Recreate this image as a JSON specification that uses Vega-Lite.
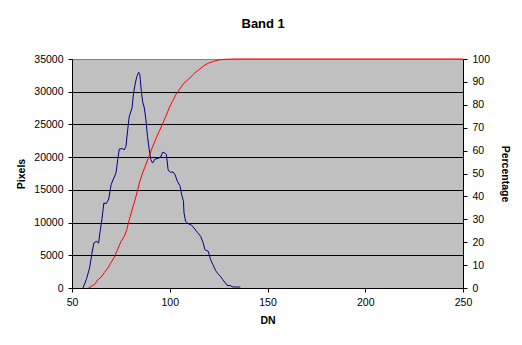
{
  "$schema": "https://vega.github.io/schema/vega-lite/v6.json",
  "width": 391,
  "height": 229,
  "autosize": {"type": "none"},
  "padding": {"left": 72, "top": 59, "right": 59, "bottom": 57},
  "background": "white",
  "title": {"text": "Band 1", "font": "Liberation Sans", "fontSize": 13, "fontWeight": "bold", "color": "black", "anchor": "middle", "frame": "bounds", "offset": 23},
  "config": {
    "view": {"fill": "#C0C0C0", "stroke": "#808080", "strokeWidth": 1},
    "axis": {"labelFont": "Liberation Sans", "labelFontSize": 10.5, "labelColor": "black", "titleFont": "Liberation Sans", "titleFontSize": 10.5, "titleFontWeight": "bold", "titleColor": "black", "domainColor": "black", "tickColor": "black", "tickSize": 4, "labelPadding": 5, "grid": false, "labelFlush": false, "labelOverlap": false}
  },
  "datasets": {
    "hist": [
      {"DN": 55.6, "Pixels": 0}, {"DN": 57.3, "Pixels": 1274}, {"DN": 59.0, "Pixels": 3057}, {"DN": 60.2, "Pixels": 5350},
      {"DN": 61.2, "Pixels": 6878}, {"DN": 62.4, "Pixels": 7133}, {"DN": 63.6, "Pixels": 6878}, {"DN": 64.4, "Pixels": 8661},
      {"DN": 65.4, "Pixels": 10700}, {"DN": 66.3, "Pixels": 12992}, {"DN": 67.5, "Pixels": 12890}, {"DN": 68.8, "Pixels": 13604},
      {"DN": 70.0, "Pixels": 15795}, {"DN": 71.4, "Pixels": 16814}, {"DN": 72.5, "Pixels": 17578}, {"DN": 73.4, "Pixels": 19616},
      {"DN": 74.2, "Pixels": 21246}, {"DN": 75.6, "Pixels": 21297}, {"DN": 76.8, "Pixels": 21144}, {"DN": 77.6, "Pixels": 21654},
      {"DN": 78.5, "Pixels": 24201}, {"DN": 79.3, "Pixels": 26239}, {"DN": 80.7, "Pixels": 27513}, {"DN": 81.5, "Pixels": 29806},
      {"DN": 82.4, "Pixels": 31334}, {"DN": 83.2, "Pixels": 32353}, {"DN": 84.1, "Pixels": 32965}, {"DN": 84.7, "Pixels": 32608},
      {"DN": 85.4, "Pixels": 30315}, {"DN": 86.1, "Pixels": 28532}, {"DN": 87.0, "Pixels": 27513}, {"DN": 87.8, "Pixels": 25729},
      {"DN": 88.6, "Pixels": 23182}, {"DN": 89.5, "Pixels": 21144}, {"DN": 90.3, "Pixels": 19616}, {"DN": 91.2, "Pixels": 19106},
      {"DN": 92.5, "Pixels": 19718}, {"DN": 94.2, "Pixels": 19820}, {"DN": 95.4, "Pixels": 20023}, {"DN": 96.3, "Pixels": 20737},
      {"DN": 97.5, "Pixels": 20635}, {"DN": 98.3, "Pixels": 20380}, {"DN": 99.2, "Pixels": 17985}, {"DN": 100.5, "Pixels": 17680},
      {"DN": 101.7, "Pixels": 17731}, {"DN": 102.7, "Pixels": 17323}, {"DN": 103.9, "Pixels": 16304}, {"DN": 105.3, "Pixels": 15540},
      {"DN": 106.1, "Pixels": 14266}, {"DN": 107.0, "Pixels": 13247}, {"DN": 107.3, "Pixels": 11464}, {"DN": 108.1, "Pixels": 10190},
      {"DN": 109.5, "Pixels": 9833}, {"DN": 111.2, "Pixels": 9579}, {"DN": 112.4, "Pixels": 9171}, {"DN": 114.1, "Pixels": 8509},
      {"DN": 115.8, "Pixels": 7897}, {"DN": 117.0, "Pixels": 6980}, {"DN": 118.0, "Pixels": 5859}, {"DN": 119.7, "Pixels": 5604},
      {"DN": 120.9, "Pixels": 4331}, {"DN": 122.1, "Pixels": 3567}, {"DN": 123.4, "Pixels": 2700}, {"DN": 124.6, "Pixels": 2191},
      {"DN": 125.9, "Pixels": 1783}, {"DN": 127.1, "Pixels": 1274}, {"DN": 128.5, "Pixels": 764}, {"DN": 129.3, "Pixels": 408},
      {"DN": 131.0, "Pixels": 357}, {"DN": 132.4, "Pixels": 153}, {"DN": 136.1, "Pixels": 153}
    ],
    "cum": [
      {"DN": 58.5, "Percentage": 0}, {"DN": 59.8, "Percentage": 0.7}, {"DN": 61.5, "Percentage": 1.5}, {"DN": 63.2, "Percentage": 3.6},
      {"DN": 64.9, "Percentage": 4.7}, {"DN": 66.6, "Percentage": 6.8}, {"DN": 68.3, "Percentage": 8.7}, {"DN": 70.0, "Percentage": 11.2},
      {"DN": 71.7, "Percentage": 13.5}, {"DN": 73.4, "Percentage": 17.0}, {"DN": 75.1, "Percentage": 20.4}, {"DN": 76.8, "Percentage": 22.6},
      {"DN": 78.0, "Percentage": 25.5}, {"DN": 79.3, "Percentage": 29.8}, {"DN": 81.0, "Percentage": 34.9}, {"DN": 82.4, "Percentage": 38.9},
      {"DN": 83.6, "Percentage": 42.9}, {"DN": 84.7, "Percentage": 46.6}, {"DN": 86.1, "Percentage": 50.2}, {"DN": 87.8, "Percentage": 53.9},
      {"DN": 89.5, "Percentage": 57.8}, {"DN": 91.2, "Percentage": 61.6}, {"DN": 92.9, "Percentage": 65.1}, {"DN": 94.6, "Percentage": 68.4},
      {"DN": 96.3, "Percentage": 71.6}, {"DN": 98.0, "Percentage": 75.0}, {"DN": 99.7, "Percentage": 78.6}, {"DN": 101.4, "Percentage": 81.5},
      {"DN": 103.1, "Percentage": 84.4}, {"DN": 105.1, "Percentage": 86.9}, {"DN": 107.3, "Percentage": 89.5}, {"DN": 109.8, "Percentage": 91.3},
      {"DN": 112.4, "Percentage": 93.6}, {"DN": 114.9, "Percentage": 95.3}, {"DN": 117.5, "Percentage": 97.1}, {"DN": 120.0, "Percentage": 98.3},
      {"DN": 122.5, "Percentage": 99.0}, {"DN": 125.1, "Percentage": 99.6}, {"DN": 128.5, "Percentage": 99.9}, {"DN": 133.6, "Percentage": 100},
      {"DN": 250, "Percentage": 100}
    ]
  },
  "layer": [
    {
      "data": {"name": "hist"},
      "mark": {"type": "line", "color": "#000080", "strokeWidth": 1},
      "encoding": {
        "x": {"field": "DN", "type": "quantitative", "scale": {"domain": [50, 250], "nice": false},
              "axis": {"values": [50, 100, 150, 200, 250], "title": "DN", "titlePadding": 8}},
        "y": {"field": "Pixels", "type": "quantitative", "scale": {"domain": [0, 35000], "nice": false},
              "axis": {"values": [0, 5000, 10000, 15000, 20000, 25000, 30000, 35000], "format": "d", "title": "Pixels", "titlePadding": 7,
                       "grid": true, "gridOpacity": 1, "gridColor": {"condition": {"test": "datum.value >= 35000", "value": "#808080"}, "value": "#000000"}}}
      }
    },
    {
      "data": {"name": "cum"},
      "mark": {"type": "line", "color": "#FF0000", "strokeWidth": 1},
      "encoding": {
        "x": {"field": "DN", "type": "quantitative", "scale": {"domain": [50, 250], "nice": false}},
        "y": {"field": "Percentage", "type": "quantitative", "scale": {"domain": [0, 100], "nice": false},
              "axis": {"orient": "right", "values": [0, 10, 20, 30, 40, 50, 60, 70, 80, 90, 100], "title": "Percentage", "titlePadding": 10}}
      }
    }
  ],
  "resolve": {"scale": {"y": "independent"}}
}
